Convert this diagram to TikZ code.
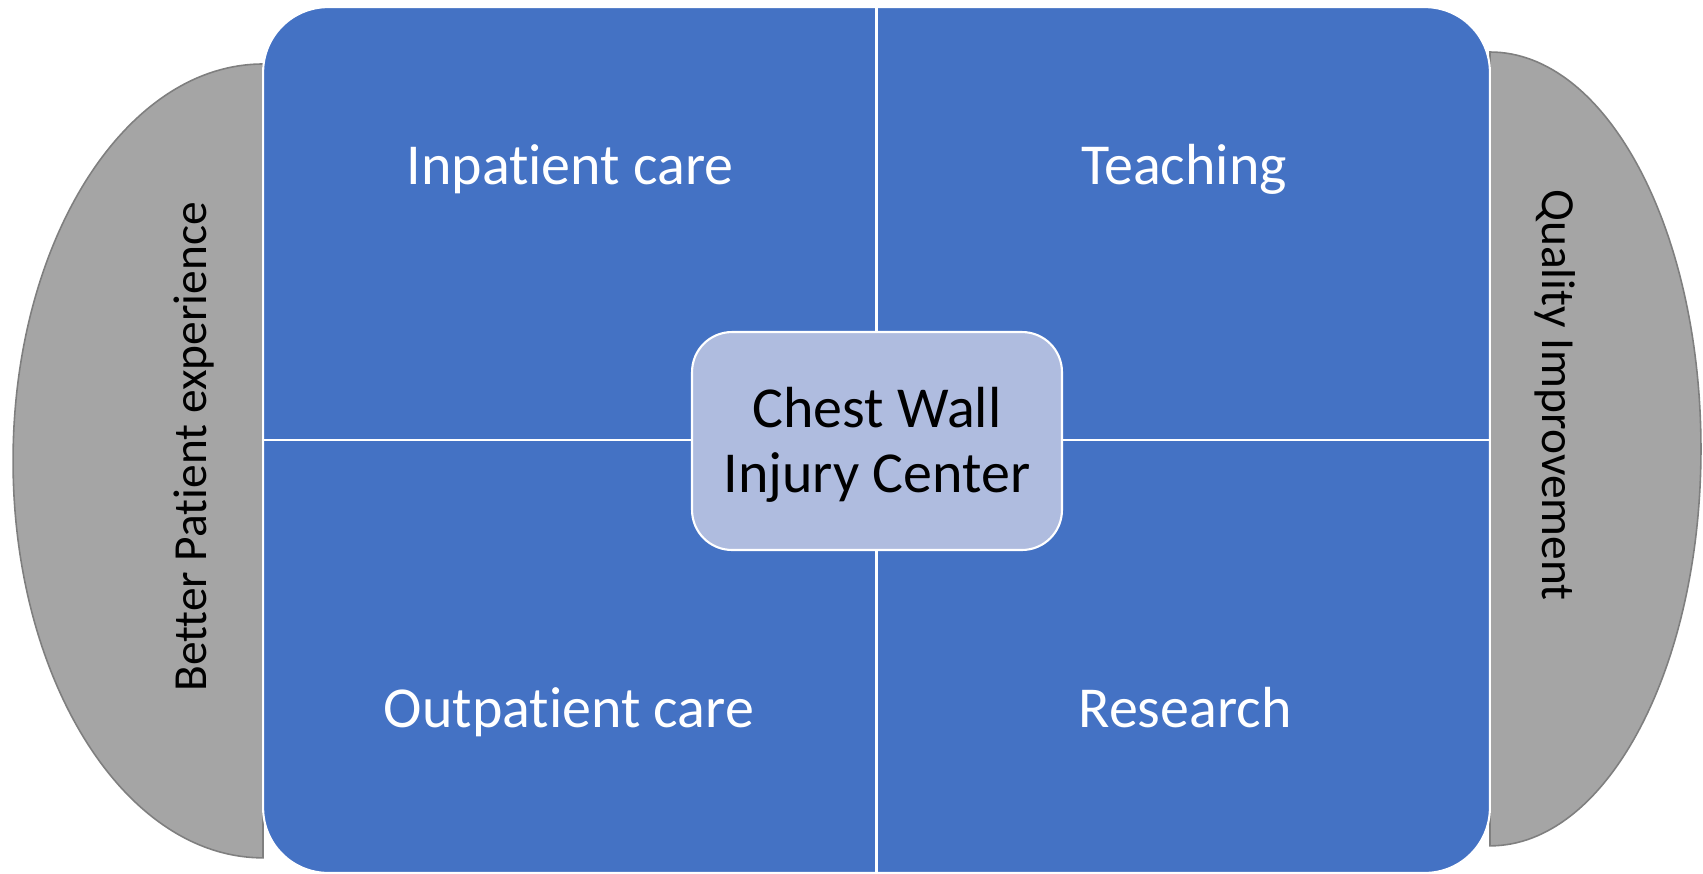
\documentclass[tikz,border=0pt]{standalone}
\usepackage{fontspec}
\setmainfont{Carlito}[Ligatures=NoCommon]
\usepackage{tikz}
\definecolor{cwblue}{HTML}{4472C4}
\definecolor{cwgray}{HTML}{A5A5A5}
\definecolor{cwedge}{HTML}{7F7F7F}
\definecolor{cwlight}{HTML}{AFBCDF}
\tikzstyle{side} = [fill=cwgray, draw=cwedge, line width=0.9pt]
\tikzstyle{board} = [rectangle, draw=white, fill=cwblue, line width=1.2pt,
    minimum width=24.54cm, minimum height=17.32cm, rounded corners=1.3cm]
\tikzstyle{hub} = [rectangle, draw=white, fill=cwlight, line width=1.2pt,
    minimum width=7.4cm, minimum height=4.36cm, rounded corners=0.8cm]
\tikzstyle{hubtext} = [align=center, font=\fontsize{33}{37.4}\selectfont]
\tikzstyle{divider} = [draw=white, line width=1.2pt]
\tikzstyle{quad} = [text=white, anchor=base, font=\fontsize{33}{38}\selectfont]
\tikzstyle{sidetext} = [text=black, anchor=base, font=\fontsize{27}{32}\selectfont]

\begin{document}
\begin{tikzpicture}[x=0.02cm, y=-0.02cm]
        \useasboundingbox (0,0) rectangle (1703,873);
        % grey half ellipses behind the board
        \draw [side] (263,64) arc[start angle=90, end angle=270, x radius=5cm, y radius=7.94cm] -- cycle;
        \draw [side] (1490,52) arc[start angle=90, end angle=-90, x radius=4.22cm, y radius=7.94cm] -- cycle;
        % board and its four fields
        \node [board] (board) at (876.5,440) {};
        \path [divider] (board.north) -- (board.south);
        \path [divider] (board.west) -- (board.east);
        \node [hub] (hub) at (877,441) {};
        \node [hubtext, yshift=-2.2pt] (hubtext) at (hub.center) {Chest Wall\\Injury Center};
        % labels
        \node [quad] (inpatient) at (570,184) {Inpatient care};
        \node [quad] (teaching) at (1184,184) {Teaching};
        \node [quad] (outpatient) at (569,727) {Outpatient care};
        \node [quad] (research) at (1185,727) {Research};
        \node [sidetext, rotate=90] (better) at (206,447) {Better Patient experience};
        \node [sidetext, rotate=-90] (quality) at (1542,395) {Quality Improvement};
    \end{tikzpicture}
\end{document}
